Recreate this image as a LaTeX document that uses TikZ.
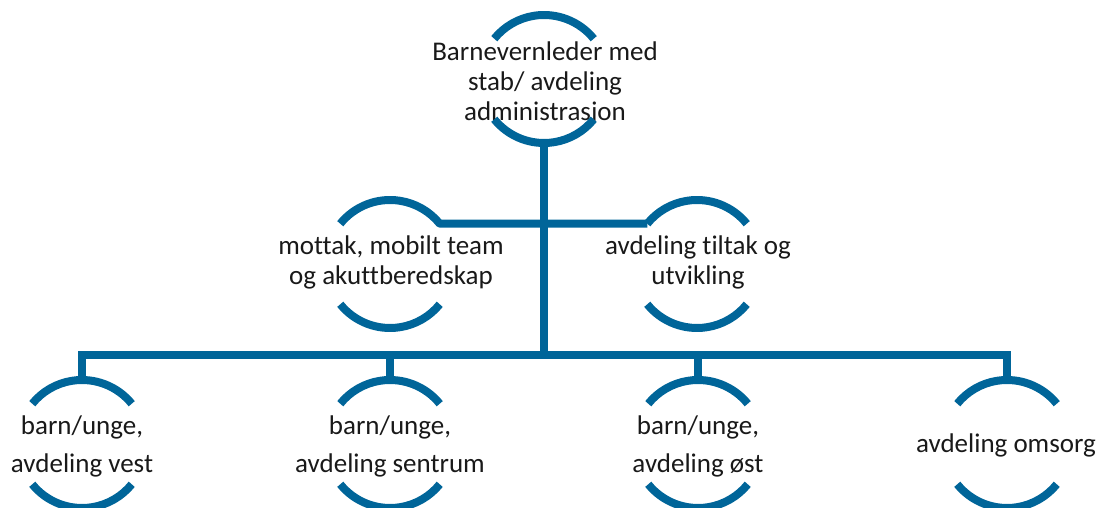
\documentclass[tikz,border=0pt]{standalone}
\usepackage{fontspec}
\setmainfont{Carlito}[Ligatures=NoCommon]
\usetikzlibrary{calc}
\definecolor{orgblue}{RGB}{0,101,153}
\definecolor{txt}{RGB}{25,25,25}
\begin{document}
\begin{tikzpicture}[x=1pt,y=1pt,
  conn/.style={draw=orgblue, line width=8pt, line join=round, line cap=butt},
  lbl/.style={align=center, text=txt, inner sep=0pt, font=\fontsize{27}{30}\selectfont},
  lblwide/.style={lbl, font=\fontsize{27}{38}\selectfont}]
\useasboundingbox (0,0) rectangle (1100,508);
% circle centres
\coordinate (ct) at (544,429);
\coordinate (cml) at (390,244);
\coordinate (cmr) at (697,244);
\coordinate (cb1) at (82,64);
\coordinate (cb2) at (390,64);
\coordinate (cb3) at (698,64);
\coordinate (cb4) at (1007,64);
% text nodes
\node[lbl] (top) at (545,425) {Barnevernleder med\\stab/ avdeling\\administrasjon};
\node[lbl] (ml) at (391,246) {mottak, mobilt team\\og akuttberedskap};
\node[lbl] (mr) at (698,246) {avdeling tiltak og\\utvikling};
\node[lblwide] (b1) at (82,62) {barn/unge,\\avdeling vest};
\node[lblwide] (b2) at (390,62) {barn/unge,\\avdeling sentrum};
\node[lblwide] (b3) at (698,62) {barn/unge,\\avdeling øst};
\node[lbl] (b4) at (1006,63) {avdeling omsorg};
% arcs
\foreach \c in {ct,cmr,cb1,cb2,cb3,cb4}{
  \draw[conn] ($(\c)+(39:64)$) arc[start angle=39,end angle=141,radius=64];
}
\foreach \c in {ct,cml,cmr,cb1,cb2,cb3,cb4}{
  \draw[conn] ($(\c)+(-141:64)$) arc[start angle=-141,end angle=-39,radius=64];
}
% connector points
\coordinate (tbot) at ($(ct)+(0,-64)$);
\coordinate (mlw) at ($(cml)+(141:64)$);
\coordinate (mrw) at ($(cmr)+(141:64)$);
\coordinate (b1t) at ($(cb1)+(0,64)$);
\coordinate (b2t) at ($(cb2)+(0,64)$);
\coordinate (b3t) at ($(cb3)+(0,64)$);
\coordinate (b4t) at ($(cb4)+(0,64)$);
\coordinate (bus) at ($(b1t)+(0,25)$);
% middle-left arc continuing into the cross line
\draw[conn] (mlw) arc[start angle=141,end angle=39,radius=64] -- (mrw);
% trunk
\draw[conn] (tbot) -- (tbot |- bus);
% bottom bus
\draw[conn, line join=miter] (b1t) -- (bus) -| (b4t);
\draw[conn] (b2t) -- (b2t |- bus);
\draw[conn] (b3t) -- (b3t |- bus);
\end{tikzpicture}
\end{document}
